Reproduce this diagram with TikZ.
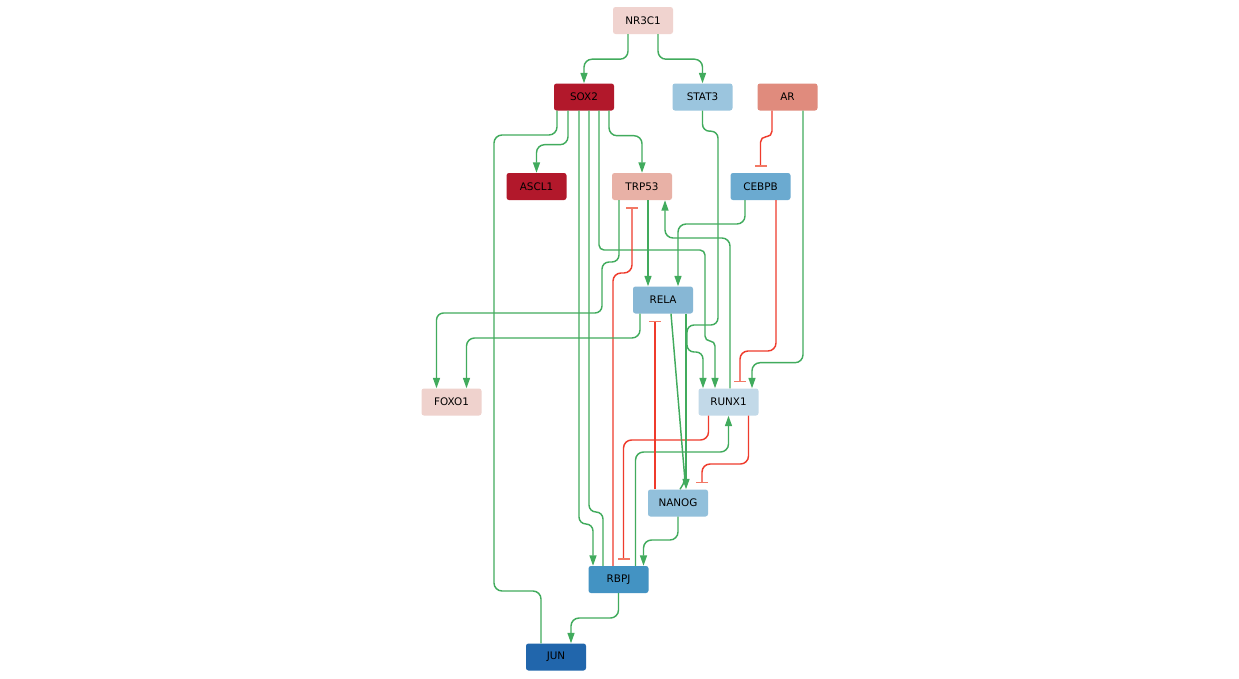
\documentclass[tikz,border=0pt]{standalone}
\usepackage{fontspec}
\setmainfont{DejaVu Sans}
\usetikzlibrary{arrows.meta}

% node fills
\definecolor{cNR}{RGB}{240,211,207}
\definecolor{cSOX}{RGB}{178,24,43}
\definecolor{cSTAT}{RGB}{155,197,222}
\definecolor{cAR}{RGB}{224,139,125}
\definecolor{cASCL}{RGB}{178,24,43}
\definecolor{cTRP}{RGB}{232,177,166}
\definecolor{cCEBPB}{RGB}{107,170,208}
\definecolor{cRELA}{RGB}{135,183,213}
\definecolor{cFOXO}{RGB}{239,210,205}
\definecolor{cRUNX}{RGB}{194,217,232}
\definecolor{cNANOG}{RGB}{146,192,219}
\definecolor{cRBPJ}{RGB}{67,147,195}
\definecolor{cJUN}{RGB}{33,102,172}
% edge colours
\definecolor{actgreen}{RGB}{65,171,93}
\definecolor{inhred}{RGB}{239,59,44}
\definecolor{teered}{RGB}{242,120,100}

\begin{document}
\begin{tikzpicture}[x=1pt,y=-1pt,
  gene/.style={rectangle, rounded corners=2.5pt, minimum width=60pt,
    minimum height=27pt, inner sep=0pt, text=black,
    font=\fontsize{10.4}{12}\selectfont},
  act/.style={draw=actgreen, line width=1.45pt, rounded corners=8pt,
    -{Triangle[length=10.5pt,width=7pt]}},
  inh/.style={draw=inhred, line width=1.45pt, rounded corners=8pt,
    -{Bar[width=12pt,line width=1.45pt,color=teered]}},
  link/.style={draw=actgreen, line width=1.45pt, rounded corners=8pt}]

\fill[white] (0,0) rectangle (1239,678);
\useasboundingbox (0,0) rectangle (1239,678);

% genes
\node[gene, fill=cNR]    (nr)    at (643,20.5)  {NR3C1};
\node[gene, fill=cSOX]   (sox2)  at (584,97)    {SOX2};
\node[gene, fill=cSTAT]  (stat3) at (702.5,97)  {STAT3};
\node[gene, fill=cAR]    (ar)    at (787.5,97)  {AR};
\node[gene, fill=cASCL]  (ascl1) at (536.5,186.5) {ASCL1};
\node[gene, fill=cTRP]   (trp53) at (642,186.5) {TRP53};
\node[gene, fill=cCEBPB] (cebpb) at (760.5,186.5) {CEBPB};
\node[gene, fill=cRELA]  (rela)  at (663,300)   {RELA};
\node[gene, fill=cFOXO]  (foxo1) at (451.5,402) {FOXO1};
\node[gene, fill=cRUNX]  (runx1) at (728.5,402) {RUNX1};
\node[gene, fill=cNANOG] (nanog) at (678,503)   {NANOG};
\node[gene, fill=cRBPJ]  (rbpj)  at (618.5,579.5) {RBPJ};
\node[gene, fill=cJUN]   (jun)   at (556,657)   {JUN};

% NR3C1 targets
\draw[act] ([xshift=-15pt]nr.south) -- ++(0,25) -| (sox2.north);
\draw[act] ([xshift=15pt]nr.south) -- ++(0,25) -| (stat3.north);

% AR
\draw[inh, rounded corners=5.5pt] ([xshift=-15.5pt]ar.south) -- ++(0,26) -| ([yshift=6pt]cebpb.north);
\draw[act] ([xshift=15.5pt]ar.south) -- ++(0,252) -| ([xshift=23.5pt]runx1.north);

% STAT3
\draw[act, rounded corners=7pt] (stat3.south) -- ++(0,20.5) -| (718,325) -| (687,352) -| ([xshift=-25.5pt]runx1.north);

% SOX2
\draw[act, rounded corners=5pt] ([xshift=15pt]sox2.south) |- (705,250) -- (705,341) -| ([xshift=-13.5pt]runx1.north);
\draw[act] ([xshift=-16pt]sox2.south) -- ++(0,34) -| (ascl1.north);
\draw[act] ([xshift=25pt]sox2.south) -- ++(0,25) -| (trp53.north);
\draw[link] ([xshift=-27pt]sox2.south) |- (494,135) |- (541,591) -- ([xshift=-15pt]jun.north);
\draw[act, rounded corners=7pt] ([xshift=-5pt]sox2.south) |- (593,524) -- ([xshift=-25.5pt]rbpj.north);
\draw[link, rounded corners=7pt] ([xshift=5pt]sox2.south) |- (603,512) -- ([xshift=-15.5pt]rbpj.north);

% TRP53
\draw[act, rounded corners=7pt] ([xshift=-23pt]trp53.south) |- (602,262) |- (436.5,313) -- ([xshift=-15pt]foxo1.north);
\draw[act] ([xshift=6pt]trp53.south) -- ([xshift=-15pt]rela.north);

% RBPJ
\draw[inh] ([xshift=-5.5pt]rbpj.north) |- (632,273) -- ([xshift=-10pt,yshift=-7pt]trp53.south);
\draw[act] ([xshift=17pt]rbpj.north) |- (728.5,452) -- (runx1.south);
\draw[act] (rbpj.south) |- (571,618) -- ([xshift=15pt]jun.north);

% RUNX1
\draw[act] ([xshift=1.5pt]runx1.north) |- (665,238) -- ([xshift=23pt]trp53.south);
\draw[inh] ([xshift=20pt]runx1.south) |- (702,464) -- ([xshift=24pt,yshift=6pt]nanog.north);
\draw[inh] ([xshift=-20pt]runx1.south) |- (623.5,440) -- ([xshift=5pt,yshift=6pt]rbpj.north);

% CEBPB
\draw[act] ([xshift=-15.5pt]cebpb.south) |- (678,224) -- ([xshift=15pt]rela.north);
\draw[inh] ([xshift=15.5pt]cebpb.south) |- (740,351) -- ([xshift=11.5pt,yshift=6pt]runx1.north);

% RELA
\draw[act] ([xshift=-23pt]rela.south) |- (466.5,338) -- ([xshift=15pt]foxo1.north);
\draw[act] ([xshift=23pt]rela.south) -- ([xshift=8pt]nanog.north);
\draw[link, rounded corners=4pt] ([xshift=8pt]rela.south) -- (685,481) -- ([xshift=2pt]nanog.north);

% NANOG
\draw[inh] ([xshift=-23pt]nanog.north) -- ([xshift=-8pt,yshift=-7pt]rela.south);
\draw[act] (nanog.south) |- (643.5,540) -- ([xshift=25pt]rbpj.north);

\end{tikzpicture}
\end{document}
